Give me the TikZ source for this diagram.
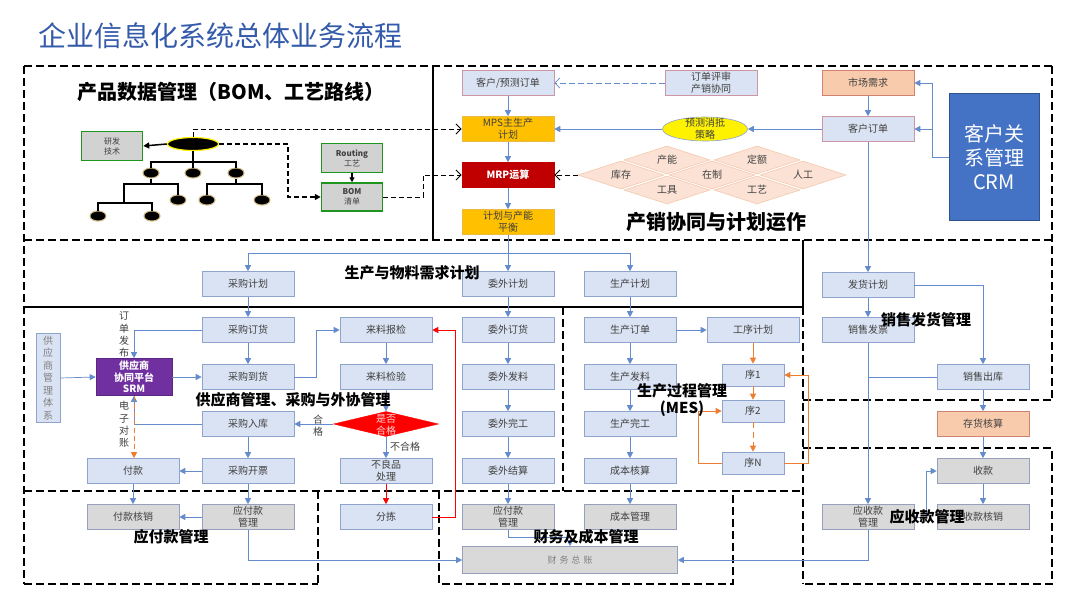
\documentclass[tikz,border=0pt]{standalone}
\usepackage{fontspec}
\setmainfont{Noto Sans CJK SC}
\usetikzlibrary{arrows.meta,shapes.geometric}
\definecolor{bxfill}{RGB}{218,227,243}
\definecolor{bxdraw}{RGB}{143,164,205}
\definecolor{pkdraw}{RGB}{205,150,165}
\definecolor{grfill}{RGB}{217,217,217}
\definecolor{grdraw}{RGB}{150,160,190}
\definecolor{txt}{RGB}{64,64,64}
\definecolor{lblue}{RGB}{100,140,205}
\definecolor{gold}{RGB}{255,192,0}
\definecolor{golddraw}{RGB}{235,185,70}
\definecolor{mrpred}{RGB}{192,0,0}
\definecolor{peach}{RGB}{248,203,173}
\definecolor{peachdraw}{RGB}{210,130,110}
\definecolor{dfill}{RGB}{251,226,213}
\definecolor{ddraw}{RGB}{244,195,165}
\definecolor{crmblue}{RGB}{68,114,196}
\definecolor{crmdraw}{RGB}{47,82,143}
\definecolor{purp}{RGB}{112,48,160}
\definecolor{orng}{RGB}{237,125,49}
\definecolor{titleblue}{RGB}{52,90,170}
\definecolor{pdmgreen}{RGB}{30,150,30}
\definecolor{khaki}{RGB}{200,180,120}
\definecolor{pdmfill}{RGB}{210,210,210}
\tikzset{
  bx/.style={draw=bxdraw, fill=bxfill, line width=0.6pt, minimum width=92pt, minimum height=25pt, inner sep=0pt, align=center, text=txt, font=\fontsize{10}{12}\selectfont},
  pbx/.style={bx, draw=pkdraw},
  gbx/.style={bx, fill=grfill, draw=grdraw},
  sbx/.style={bx, minimum width=62pt, minimum height=22pt},
  gdbx/.style={bx, fill=gold, draw=golddraw},
  pchbx/.style={bx, fill=peach, draw=peachdraw},
  pdmbox/.style={draw=pdmgreen, line width=1.5pt, fill=pdmfill, minimum width=61pt, minimum height=29pt, inner sep=0pt, align=center, text=txt, font=\fontsize{8}{10}\selectfont},
  dia/.style={diamond, aspect=3, fill=dfill, draw=ddraw, line width=0.5pt, minimum width=86pt, minimum height=28pt, inner sep=0pt, text=txt, font=\fontsize{10}{12}\selectfont},
  leaf/.style={ellipse, fill=black, draw=khaki, line width=1pt, minimum width=16pt, minimum height=10pt, inner sep=0pt},
  arr/.style={draw=lblue, line width=0.7pt, -{Triangle[length=6pt,width=6pt]}},
  ln/.style={draw=lblue, line width=0.7pt},
  oarr/.style={draw=orng, line width=0.8pt, -{Triangle[length=6pt,width=6pt]}},
  rarr/.style={draw=red, line width=0.8pt, -{Triangle[length=6pt,width=6pt]}},
  chev/.style={-{Straight Barb[length=5pt,width=10pt]}},
  reg/.style={draw=black, line width=1.6pt, dash pattern=on 8pt off 4pt},
  regs/.style={draw=black, line width=1.4pt},
  sect/.style={font=\bfseries\fontsize{15}{17}\selectfont, text=black, inner sep=0pt, align=center},
  bigsect/.style={font=\bfseries\fontsize{20}{22}\selectfont, text=black, inner sep=0pt},
  vtxt/.style={font=\fontsize{10}{12.3}\selectfont, text=txt, align=center, inner sep=0pt},
}
\begin{document}
\begin{tikzpicture}[x=1pt,y=-1pt]
\useasboundingbox (0,0) rectangle (1080,608);
\fill[white] (0,0) rectangle (1080,608);

% title
\node[font=\fontsize{28}{30}\selectfont, text=titleblue, anchor=west, inner sep=0pt] (title) at (38,36) {企业信息化系统总体业务流程};

% regions
\draw[reg] (24,66) -- (1052,66);
\draw[reg] (24,66) -- (24,584);
\draw[reg] (24,240) -- (1052,240);
\draw[regs] (433,66) -- (433,240);
\draw[reg] (1052,66) -- (1052,400);
\draw[regs] (24,307) -- (803,307);
\draw[regs] (803,240) -- (803,307);
\draw[reg] (803,307) -- (803,584);
\draw[reg] (803,400) -- (1052,400);
\draw[reg] (563,307) -- (563,491);
\draw[reg] (24,491) -- (803,491);
\draw[reg] (318,491) -- (318,584);
\draw[reg] (24,584) -- (318,584);
\draw[reg] (439,491) -- (439,584) -- (733,584) -- (733,491);
\draw[reg] (803,448) -- (1052,448) -- (1052,584) -- (803,584);

% ---------- PDM ----------
\node[pdmbox] (yfjs) at (112,146) {研发\\技术};
\node[pdmbox] (routing) at (352,158) {\textbf{Routing}\\工艺};
\node[pdmbox, minimum height=28pt] (bom) at (352,197) {\textbf{BOM}\\清单};
\node[ellipse, fill=black, draw=yellow, line width=1.2pt, minimum width=51pt, minimum height=13pt, inner sep=0pt] (root) at (193,144) {};
\node[leaf] (l1) at (151,173) {};
\node[leaf] (l2) at (193,173) {};
\node[leaf] (l3) at (236,173) {};
\node[leaf] (l11) at (178,200) {};
\node[leaf] (l31) at (207,200) {};
\node[leaf] (l32) at (262,200) {};
\node[leaf] (l111) at (98,216) {};
\node[leaf] (l112) at (152,216) {};
\coordinate (t0) at (193,162);
\coordinate (t1) at (151,184);
\coordinate (t1b) at (124,203);
\coordinate (t3) at (236,184);
\begin{scope}[line width=1.5pt]
\draw (root.south) -- (t0);
\draw (l1.north) |- (t0) -| (l3.north);
\draw (t0) -- (l2.north);
\draw (l1.south) -- (t1);
\draw (t1) -| (l11.north);
\draw (t1) -| (t1b);
\draw (l111.north) |- (t1b) -| (l112.north);
\draw (l3.south) -- (t3);
\draw (l31.north) |- (t3) -| (l32.north);
\end{scope}
\draw[line width=1.5pt, -{Triangle[length=6pt,width=6pt]}] (root.west) -- (yfjs.east);
\draw[line width=1.2pt, -{Triangle[length=5pt,width=5pt]}] (routing.south) -- (bom.north);
\draw[line width=1.8pt, dash pattern=on 5pt off 3pt, -{Triangle[length=6pt,width=6pt]}] (root.east) -- ++(69,0) |- (bom.west);
\node[bigsect] (pdmlbl) at (231,92) {产品数据管理（BOM、工艺路线）};

% ---------- 产销 ----------
\node[pbx] (kyd) at (508,83) {客户/预测订单};
\node[pbx] (ddps) at (711,83) {订单评审\\产销协同};
\node[gdbx] (mps) at (508,129) {MPS主生产\\计划};
\node[bx, fill=mrpred, draw=mrpred, text=white, font=\bfseries\fontsize{10}{12}\selectfont] (mrp) at (508,175) {MRP运算};
\node[gdbx] (jhcn) at (508,222) {计划与产能\\平衡};
\node[ellipse, fill=yellow, draw=bxdraw, line width=0.6pt, minimum width=85pt, minimum height=24pt, inner sep=0pt] (ycxd) at (705,129) {};
\node[vtxt] (ycxdt) at (ycxd) {预测消抵\\策略};
\node[pchbx] (scxq) at (868,83) {市场需求};
\node[pbx] (khdd) at (868,129) {客户订单};
\node[draw=crmdraw, fill=crmblue, line width=0.8pt, text=white, minimum width=90pt, minimum height=127pt, align=center, inner sep=0pt, font=\fontsize{20}{24}\selectfont] (crm) at (994,157) {客户关\\系管理\\CRM};
\node[dia] (dcn) at (667,160) {产能};
\node[dia] (dde) at (757,160) {定额};
\node[dia] (dkc) at (621,175) {库存};
\node[dia] (dzz) at (712,175) {在制};
\node[dia] (drg) at (803,175) {人工};
\node[dia] (dgj) at (667,190) {工具};
\node[dia] (dgy) at (757,190) {工艺};
\node[bigsect] (cxlbl) at (716,222) {产销协同与计划运作};

\coordinate (c1) at (932,157);
\draw[ln] (crm.west) -- (c1);
\draw[arr] (c1) |- (scxq.east);
\draw[arr] (c1 |- khdd.east) -- (khdd.east);
\draw[arr] (scxq.south) -- (khdd.north);
\draw[arr] (khdd.west) -- (ycxd.east);
\draw[arr] (ycxd.west) -- (mps.east);
\draw[draw=lblue, line width=0.8pt, dash pattern=on 6pt off 3pt, chev] (ddps.west) -- (kyd.east);
\draw[arr] (kyd.south) -- (mps.north);
\draw[arr] (mps.south) -- (mrp.north);
\draw[arr] (mrp.south) -- (jhcn.north);
\draw[line width=1pt, dash pattern=on 5pt off 3pt, chev] (dkc.west) -- (mrp.east);
\draw[line width=1pt, dash pattern=on 5pt off 3pt, chev] (root.north) |- (mps.west);
\draw[line width=1pt, dash pattern=on 5pt off 3pt, chev] (bom.east) -- ++(40,0) |- (mrp.west);

% ---------- 生产与物料需求计划 ----------
\node[bx] (cgjh) at (248,284) {采购计划};
\node[bx] (wwjh) at (508,284) {委外计划};
\node[bx] (scjh) at (630,284) {生产计划};
\coordinate (j1) at (508,253);
\draw[ln] (jhcn.south) -- (j1);
\draw[arr] (j1) -| (cgjh.north);
\draw[arr] (j1) -| (scjh.north);
\draw[arr] (j1) -- (wwjh.north);
\node[sect] (wllbl) at (412,273) {生产与物料需求计划};

% ---------- 采购 ----------
\node[bx] (cgdh) at (248,330) {采购订货};
\node[bx] (cgdaoh) at (248,377) {采购到货};
\node[bx] (cgrk) at (248,424) {采购入库};
\node[bx] (cgkp) at (248,471) {采购开票};
\node[gbx] (yfk1) at (248,517) {应付款\\管理};
\node[bx] (fk) at (133,471) {付款};
\node[gbx] (fkhx) at (133,517) {付款核销};
\node[bx, minimum width=24pt, minimum height=89pt, font=\fontsize{10}{12.5}\selectfont, text=gray] (gystx) at (48,378) {供\\应\\商\\管\\理\\体\\系};
\node[fill=purp, draw=purp!80!black, line width=0.6pt, text=white, minimum width=76pt, minimum height=37pt, inner sep=0pt, align=center, font=\bfseries\fontsize{10}{11.5}\selectfont] (srm) at (134,377) {供应商\\协同平台\\SRM};
\node[bx] (llbj) at (386,330) {来料报检};
\node[bx] (lljy) at (386,377) {来料检验};
\node[diamond, fill=red, draw=red, minimum width=105pt, minimum height=25pt, inner sep=0pt] (sfhg) at (386,424) {};
\node[vtxt, text={rgb,255:red,255;green,215;blue,215}] (sfhgt) at (386,425) {是否\\合格};
\node[bx] (blp) at (386,471) {不良品\\处理};
\node[bx] (fj) at (386,517) {分拣};

\draw[arr] (cgjh.south) -- (cgdh.north);
\draw[arr] (cgdh.south) -- (cgdaoh.north);
\draw[arr] (cgrk.south) -- (cgkp.north);
\draw[arr] (cgkp.south) -- (yfk1.north);
\draw[arr] (cgkp.west) -- (fk.east);
\draw[arr] (fk.south) -- (fkhx.north);
\draw[arr] (yfk1.west) -- (fkhx.east);
\draw[arr] (cgdh.west) -| (srm.north);
\draw[arr] (cgrk.west) -| (srm.south);
\draw[draw=orng, line width=0.9pt, dash pattern=on 5pt off 3pt, -{Triangle[length=6pt,width=6pt]}] (srm.south) -- (srm.south |- fk.north);
\draw[arr] (gystx.east) -- (srm.west);
\draw[arr] (srm.east) -- (cgdaoh.west);
\draw[arr] (cgdaoh.east) -- ++(22,0) |- (llbj.west);
\draw[arr] (llbj.south) -- (lljy.north);
\draw[arr] (lljy.south) -- (sfhg.north);
\draw[arr] (sfhg.west) -- (cgrk.east);
\draw[arr] (sfhg.south) -- (blp.north);
\draw[rarr] (blp.south) -- (fj.north);
\draw[rarr] (fj.east) -- ++(23,0) |- (llbj.east);
\node[vtxt] (ddfb) at (124,334.5) {订\\单\\发\\布};
\node[vtxt] (dzdz) at (124,424.5) {电\\子\\对\\账};
\node[vtxt] (hg) at (318,426) {合\\格};
\node[vtxt] (bhg) at (405,447) {不合格};
\node[sect] (gyslbl) at (293,400) {供应商管理、采购与外协管理};

% ---------- 委外 ----------
\node[bx] (wwdh) at (508,330) {委外订货};
\node[bx] (wwfl) at (508,377) {委外发料};
\node[bx] (wwwg) at (508,424) {委外完工};
\node[bx] (wwjs) at (508,471) {委外结算};
\node[gbx] (yfk2) at (508,517) {应付款\\管理};
\draw[arr] (wwjh.south) -- (wwdh.north);
\draw[arr] (wwdh.south) -- (wwfl.north);
\draw[arr] (wwfl.south) -- (wwwg.north);
\draw[arr] (wwwg.south) -- (wwjs.north);
\draw[arr] (wwjs.south) -- (yfk2.north);

% ---------- 生产 / MES ----------
\node[bx] (scdd) at (630,330) {生产订单};
\node[bx] (scfl) at (630,377) {生产发料};
\node[bx] (scwg) at (630,424) {生产完工};
\node[bx] (cbhs) at (630,471) {成本核算};
\node[gbx] (cbgl) at (630,517) {成本管理};
\node[bx] (gxjh) at (753,330) {工序计划};
\node[sbx] (x1) at (753,375) {序1};
\node[sbx] (x2) at (753,411) {序2};
\node[sbx] (xn) at (753,463) {序N};
\draw[arr] (scjh.south) -- (scdd.north);
\draw[arr] (scdd.south) -- (scfl.north);
\draw[arr] (scfl.south) -- (scwg.north);
\draw[arr] (scwg.south) -- (cbhs.north);
\draw[arr] (cbhs.south) -- (cbgl.north);
\draw[arr] (scdd.east) -- (gxjh.west);
\draw[oarr] (gxjh.south) -- (x1.north);
\draw[oarr] (x1.south) -- (x2.north);
\draw[oarr, dash pattern=on 6pt off 4pt] (x2.south) -- (xn.north);
\draw[oarr] (xn.west) -- ++(-23,0) |- (x2.west);
\draw[oarr] (xn.east) -- ++(24,0) |- (x1.east);
\node[sect] (meslbl) at (682,400) {生产过程管理\\(MES)};

% ---------- 财务 ----------
\node[gbx, minimum width=215pt, minimum height=27pt, font=\fontsize{9}{11}\selectfont, text=gray] (cwzz) at (570,560) {财\hspace{3pt}务\hspace{3pt}总\hspace{3pt}账};
\draw[arr] (yfk1.south) |- (cwzz.west);
\draw[arr] (yfk2.south) -- ++(0,8) -| (cwzz.north);
\node[sect] (cwlbl) at (586,537) {财务及成本管理};
\node[sect] (yfklbl) at (171,537) {应付款管理};

% ---------- 销售 ----------
\node[bx] (fhjh) at (868,285) {发货计划};
\node[bx] (xsfp) at (868,330) {销售发票};
\node[bx] (xsck) at (983,377) {销售出库};
\node[pchbx] (chhs) at (983,424) {存货核算};
\node[gbx] (sk) at (983,471) {收款};
\node[gbx] (skhx) at (983,517) {收款核销};
\node[gbx] (ysk) at (868,517) {应收款\\管理};
\draw[arr] (khdd.south) -- (fhjh.north);
\draw[arr] (fhjh.south) -- (xsfp.north);
\draw[arr] (fhjh.east) -| (xsck.north);
\draw[ln] (xsck.west) -- (xsfp.south |- xsck.west);
\draw[arr] (xsfp.south) -- (ysk.north);
\draw[arr] (xsck.south) -- (chhs.north);
\draw[arr] (chhs.south) -- (sk.north);
\draw[arr] (sk.south) -- (skhx.north);
\draw[arr] (ysk.east) -- ++(12,0) |- (sk.west);
\draw[arr] (ysk.south) |- (cwzz.east);
\node[sect] (xslbl) at (926,320) {销售发货管理};
\node[sect] (ysklbl) at (927,517) {应收款管理};
\end{tikzpicture}
\end{document}
